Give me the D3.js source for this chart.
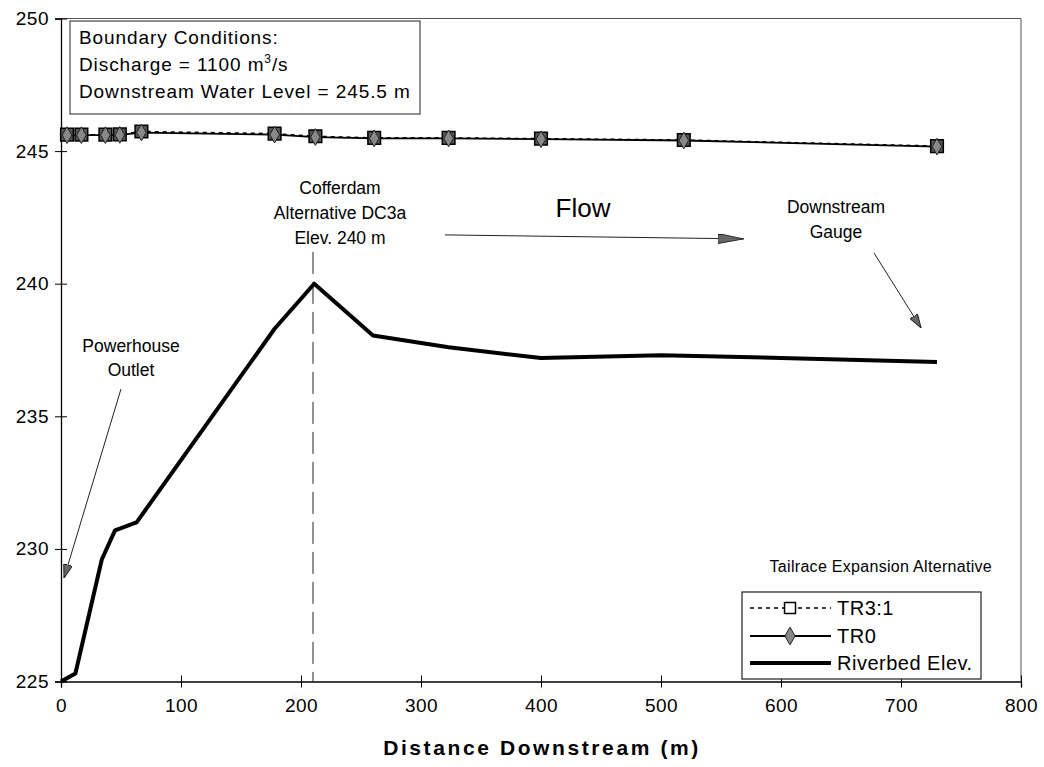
<!DOCTYPE html>
<html><head><meta charset="utf-8">
<script src="https://cdn.jsdelivr.net/npm/d3@7/dist/d3.min.js"></script>
<style>body{margin:0;background:#fff}svg{display:block;font-family:"Liberation Sans",Arial,sans-serif}</style>
</head><body><svg id="c" width="1044" height="767"></svg>
<script>
// ---- data ----
const waterX   = [5, 17, 37, 49, 67, 178, 212, 261, 323, 400, 519, 730];
const tr0      = [245.60, 245.60, 245.60, 245.61, 245.70, 245.62, 245.53, 245.48, 245.48, 245.45, 245.40, 245.17];
const tr31     = [245.62, 245.62, 245.62, 245.63, 245.74, 245.66, 245.56, 245.50, 245.50, 245.47, 245.42, 245.19];
const bedX     = [0, 12, 34, 45, 63, 178, 211, 260, 323, 400, 500, 600, 730];
const bedY     = [225.0, 225.3, 229.6, 230.7, 231.0, 238.3, 240.0, 238.05, 237.6, 237.2, 237.3, 237.2, 237.05];
const xTicks   = [0, 100, 200, 300, 400, 500, 600, 700, 800];
const yTicks   = [225, 230, 235, 240, 245, 250];
const seriesNames = ["TR3:1", "TR0", "Riverbed Elev."];

const svg = d3.select("#c");
const x = d3.scaleLinear().domain([0, 800]).range([61, 1021]);
const y = d3.scaleLinear().domain([225, 250]).range([681.5, 18.5]);

// frame (top/right)
svg.append("path").attr("d", `M${x(0)},${y(250)}H${x(800)}V${y(225)}`)
  .attr("fill","none").attr("stroke","#555").attr("stroke-width",1);

// axes
const yAx = svg.append("g").attr("transform",`translate(${x(0)},0)`)
  .call(d3.axisLeft(y).tickValues(yTicks).tickSize(6).tickPadding(12).tickFormat(d3.format("d")));
const xAx = svg.append("g").attr("transform",`translate(0,${y(225)})`)
  .call(d3.axisBottom(x).tickValues(xTicks).tickSize(6).tickPadding(11).tickFormat(d3.format("d")));
[yAx, xAx].forEach(g => {
  g.select(".domain").attr("stroke","#000").attr("stroke-width",1.3);
  g.selectAll(".tick text").attr("font-size",19).attr("fill","#000").attr("letter-spacing",0.5)
    .attr("font-family","Liberation Sans, Arial, sans-serif");
});
yAx.selectAll(".tick line").attr("x1",6).attr("x2",-6).attr("stroke","#000");
xAx.selectAll(".tick line").attr("y1",-6).attr("y2",6).attr("stroke","#000");
yAx.selectAll(".tick text").attr("x",-12);

// axis title
svg.append("text").attr("x",542).attr("y",755).attr("text-anchor","middle")
  .attr("font-size",21).attr("font-weight","bold").attr("letter-spacing",2.6)
  .text("Distance Downstream (m)");

// cofferdam dashed line
svg.append("line").attr("x1",x(210)).attr("x2",x(210)).attr("y1",y(241.2)).attr("y2",y(225))
  .attr("stroke","#222").attr("stroke-width",1).attr("stroke-dasharray","22,8");

// riverbed
const line = d3.line().x(d=>x(d[0])).y(d=>y(d[1]));
svg.append("path").datum(bedX.map((v,i)=>[v,bedY[i]])).attr("d",line)
  .attr("fill","none").attr("stroke","#000").attr("stroke-width",4).attr("stroke-linejoin","round");

// water lines
const d31 = waterX.map((v,i)=>[v,tr31[i]]);
const d0  = waterX.map((v,i)=>[v,tr0[i]]);
svg.append("path").datum(d0).attr("d",line).attr("fill","none").attr("stroke","#000").attr("stroke-width",1.8);
svg.append("path").datum(d31).attr("d",line).attr("fill","none").attr("stroke","#000").attr("stroke-width",1.5).attr("stroke-dasharray","4,4");

// markers
const sq = d3.symbol().type(d3.symbolSquare).size(160);
const dm = d3.symbol().type(d3.symbolDiamond).size(80);
svg.append("g").selectAll("path").data(d31).join("path")
  .attr("transform",d=>`translate(${x(d[0])},${y(d[1])})`).attr("d",sq)
  .attr("fill","#555").attr("stroke","#000").attr("stroke-width",1.5);
svg.append("g").selectAll("path").data(d0).join("path")
  .attr("transform",d=>`translate(${x(d[0])},${y(d[1])})`).attr("d",dm)
  .attr("fill","#888").attr("stroke","#222").attr("stroke-width",1);

// arrowheads
const defs = svg.append("defs");
function marker(id, w, h){
  defs.append("marker").attr("id",id).attr("viewBox",`0 0 ${w} ${h}`).attr("refX",w).attr("refY",h/2)
    .attr("markerWidth",w).attr("markerHeight",h).attr("markerUnits","userSpaceOnUse").attr("orient","auto")
    .append("path").attr("d",`M0,0L${w},${h/2}L0,${h}Z`).attr("fill","#666").attr("stroke","#222").attr("stroke-width",1);
}
marker("ahS",14,9); marker("ahL",26,10);
function arrow(x1,y1,x2,y2,m){
  svg.append("line").attr("x1",x(x1)).attr("y1",y(y1)).attr("x2",x(x2)).attr("y2",y(y2))
    .attr("stroke","#222").attr("stroke-width",1).attr("marker-end",`url(#${m})`);
}
arrow(50,236.03,2.5,228.9,"ahS");
arrow(320,241.84,569,241.69,"ahL");
arrow(677.5,241.16,716.7,238.33,"ahS");

// annotation texts
function txt(cx, cy, lines, size, lh){
  const t = svg.append("text").attr("font-size",size).attr("text-anchor","middle").attr("fill","#000");
  lines.forEach((s,i)=>t.append("tspan").attr("x",cx).attr("y",cy+i*lh).text(s));
  return t;
}
txt(340,194,["Cofferdam","Alternative DC3a","Elev. 240 m"],17.5,25);
svg.append("text").attr("x",583).attr("y",217).attr("text-anchor","middle").attr("font-size",26).text("Flow");
txt(836,213,["Downstream","Gauge"],17.5,25);
txt(131,352,["Powerhouse","Outlet"],17.5,24);

// boundary conditions box
svg.append("rect").attr("x",70).attr("y",21).attr("width",350).attr("height",93)
  .attr("fill","#fff").attr("stroke","#222").attr("stroke-width",1);
const bc = svg.append("g").attr("font-size",19).attr("letter-spacing",0.9);
bc.append("text").attr("x",79).attr("y",44).text("Boundary Conditions:");
const t2 = bc.append("text").attr("x",79).attr("y",71);
t2.append("tspan").text("Discharge = 1100 m");
t2.append("tspan").attr("font-size",12).attr("dy",-8).text("3");
t2.append("tspan").attr("dy",8).text("/s");
bc.append("text").attr("x",79).attr("y",98).text("Downstream Water Level = 245.5 m");

// legend
svg.append("text").attr("x",992).attr("y",572).attr("text-anchor","end").attr("font-size",16).attr("letter-spacing",0.3)
  .text("Tailrace Expansion Alternative");
svg.append("rect").attr("x",742).attr("y",592).attr("width",239).attr("height",87)
  .attr("fill","#fff").attr("stroke","#222").attr("stroke-width",1.2);
const ly = [608, 636, 663];
const lg = svg.append("g");
lg.append("line").attr("x1",750).attr("x2",831).attr("y1",ly[0]).attr("y2",ly[0]).attr("stroke","#000").attr("stroke-width",1.5).attr("stroke-dasharray","4,4");
lg.append("path").attr("transform",`translate(790,${ly[0]})`).attr("d",d3.symbol().type(d3.symbolSquare).size(120)).attr("fill","#fff").attr("stroke","#000").attr("stroke-width",1.5);
lg.append("line").attr("x1",750).attr("x2",831).attr("y1",ly[1]).attr("y2",ly[1]).attr("stroke","#000").attr("stroke-width",1.8);
lg.append("path").attr("transform",`translate(790,${ly[1]})`).attr("d",d3.symbol().type(d3.symbolDiamond).size(90)).attr("fill","#888").attr("stroke","#222").attr("stroke-width",1);
lg.append("line").attr("x1",750).attr("x2",831).attr("y1",ly[2]).attr("y2",ly[2]).attr("stroke","#000").attr("stroke-width",4);
seriesNames.forEach((n,i)=>lg.append("text").attr("x",837).attr("y",ly[i]+7).attr("font-size",20).attr("letter-spacing",0.5).text(n));
</script></body></html>
